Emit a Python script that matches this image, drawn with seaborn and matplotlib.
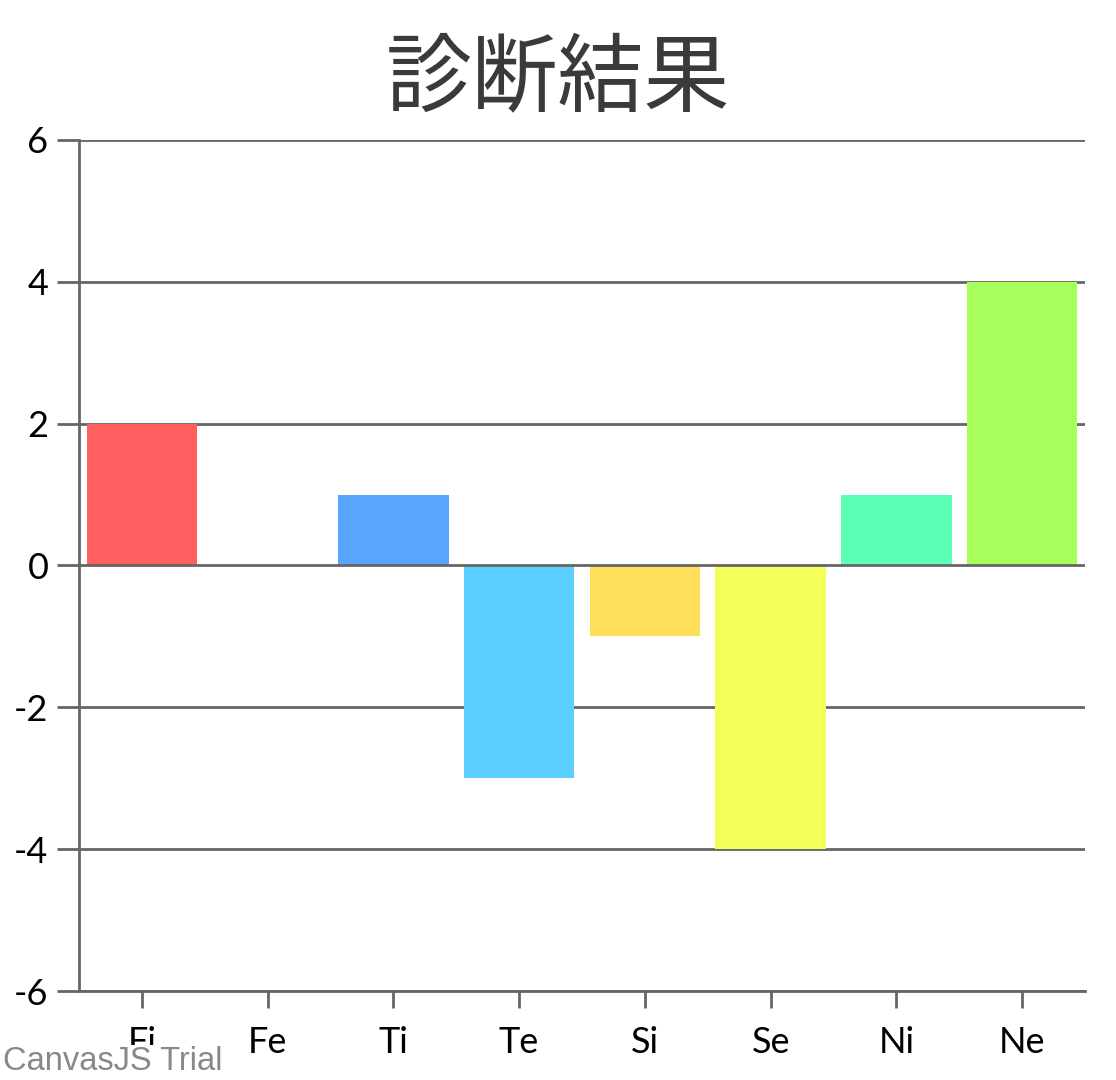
import matplotlib
matplotlib.use("Agg")
import matplotlib.pyplot as plt
import seaborn as sns
import pandas as pd

# data
categories = ["Fi", "Fe", "Ti", "Te", "Si", "Se", "Ni", "Ne"]
scores = [2, 0, 1, -3, -1, -4, 1, 4]
bar_colors = ["#FF5F5F", "#FF9F5A", "#5AA5FF", "#5BCEFF",
              "#FFDE5A", "#F5FF5A", "#5BFFB5", "#A6FF5A"]
y_ticks = [-6, -4, -2, 0, 2, 4, 6]

df = pd.DataFrame({"type": categories, "score": scores})

sns.set_style("white")
plt.rcParams['font.family'] = ['Lato', 'Noto Sans CJK JP', 'DejaVu Sans']

fig = plt.figure(figsize=(11.16, 10.8), dpi=100)
ax = fig.add_axes([0.0708, 0.0824, 0.9014, 0.788])

sns.barplot(data=df, x="type", y="score", hue="type", palette=bar_colors,
            legend=False, width=0.88, saturation=1, linewidth=0,
            ax=ax, zorder=2)

grid_c = "#666666"
ax.set_ylim(-6, 6)
ax.set_xlim(-0.5, 7.5)
ax.set_yticks(y_ticks)
ax.set_yticklabels([str(v) for v in y_ticks])
for v in y_ticks:
    ax.axhline(v, color=grid_c, lw=2, zorder=1 if v != 0 else 3)

ax.set_xlabel("")
ax.set_ylabel("")
for s in ["top", "right"]:
    ax.spines[s].set_visible(False)
for s in ["left", "bottom"]:
    ax.spines[s].set_color(grid_c)
    ax.spines[s].set_linewidth(2)
ax.tick_params(axis="y", length=16, width=2, color=grid_c, labelsize=26,
               labelcolor="black", pad=6, left=True)
ax.tick_params(axis="x", length=12, width=2, color=grid_c, labelsize=26,
               labelcolor="black", pad=13, bottom=True)

fig.text(0.5, 0.926, "診断結果", ha="center", va="center", fontsize=62,
         color="#3A3A3A", family=['Noto Sans CJK JP', 'DejaVu Sans'])

# trial watermark sits over the first label, as in the original
fig.text(0.003, 0.003, "CanvasJS Trial", ha="left", va="bottom", fontsize=23.5,
         color="#888888", family=['Liberation Sans', 'DejaVu Sans'],
         bbox=dict(facecolor="white", edgecolor="none", pad=0.5))

fig.savefig("out.png", dpi=100)
